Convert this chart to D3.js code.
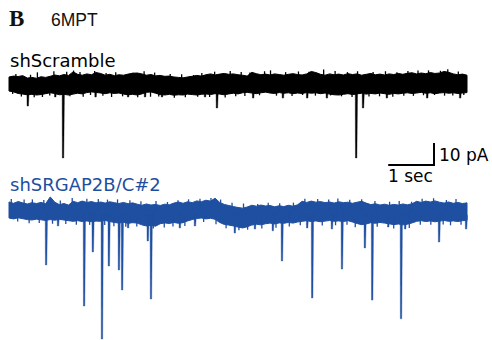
<!DOCTYPE html>
<html>
<head>
<meta charset="utf-8">
<script src="https://cdn.jsdelivr.net/npm/d3@7"></script>
<style>
  html, body { margin: 0; padding: 0; background: #fff; }
  svg { display: block; }
</style>
</head>
<body>
<div id="chart"></div>
<script>
// Recording: 10 s sweeps, envelope of the noise band sampled every 0.1 s (pA, baseline = 0)
const sampleStep = 0.1;

const scrambleUpper = [3.2, 3.6, 3.4, 3.8, 2.7, 3.0, 2.6, 3.3, 3.0, 3.5,
  4.1, 3.7, 4.3, 3.9, 5.5, 4.4, 4.0, 4.6, 4.2, 5.2,
  4.8, 4.0, 4.4, 3.8, 4.2, 4.0, 4.5, 4.9, 5.0, 4.6,
  4.0, 4.3, 3.7, 3.9, 3.5, 3.6, 3.2, 3.0, 2.8, 3.2,
  3.5, 3.9, 3.6, 4.2, 4.6, 4.1, 4.5, 4.8, 4.4, 4.6,
  4.2, 4.0, 3.6, 5.3, 4.7, 4.2, 4.5, 4.1, 4.6, 4.3,
  4.0, 4.4, 4.7, 4.3, 4.1, 4.6, 5.7, 5.2, 4.4, 4.0,
  4.6, 4.2, 4.5, 4.1, 4.7, 4.3, 4.6, 4.0, 4.4, 4.8,
  4.2, 4.5, 4.1, 4.6, 4.3, 4.8, 4.4, 4.9, 5.1, 4.6,
  5.0, 4.7, 5.2, 4.8, 5.0, 5.7, 5.3, 4.6, 4.2, 4.5, 4.0];
const scrambleLower = [-3.2, -3.6, -4.3, -4.6, -4.9, -4.7, -5.0, -4.8, -4.4, -4.0,
  -4.3, -4.9, -4.7, -5.0, -4.6, -4.2, -4.5, -3.9, -3.6, -3.8,
  -4.1, -4.4, -4.0, -4.3, -4.1, -4.6, -4.9, -4.7, -5.0, -4.5,
  -3.8, -3.6, -4.2, -4.8, -5.0, -4.7, -5.1, -4.9, -5.0, -4.6,
  -4.8, -5.0, -4.7, -4.5, -4.8, -4.4, -4.6, -4.9, -4.5, -4.2,
  -4.5, -4.0, -3.8, -4.1, -4.4, -4.0, -3.7, -4.1, -4.3, -3.9,
  -4.2, -4.0, -4.4, -4.1, -4.3, -3.9, -4.2, -4.0, -4.4, -4.1,
  -4.6, -4.9, -5.0, -4.7, -4.4, -4.8, -4.5, -4.2, -4.6, -4.3,
  -4.5, -4.1, -4.4, -4.7, -4.3, -4.5, -4.2, -4.0, -4.3, -4.1,
  -3.8, -4.2, -4.0, -4.4, -4.1, -3.9, -4.2, -4.0, -4.3, -4.1, -3.9];
// brief noise excursions poking out of the band: time (s), tip (pA)
const scrambleTipUpT = [0.15, 0.47, 0.62, 0.98, 1.26, 1.41, 1.55, 1.87, 2.12, 2.33, 2.71, 2.95, 3.18,
  3.52, 3.77, 4.03, 4.21, 4.49, 4.83, 5.07, 5.26, 5.58, 5.71, 6.04, 6.32, 6.55, 6.87, 7.12,
  7.39, 7.61, 7.95, 8.22, 8.47, 8.71, 8.93, 9.16, 9.42, 9.58, 9.81];
const scrambleTipUpA = [4.5, 4.2, 5.3, 5.8, 5.6, 6.1, 5.4, 5.9, 5.0, 5.3, 5.1, 5.8, 5.2,
  4.6, 4.4, 4.1, 5.0, 5.6, 5.9, 5.5, 5.2, 5.8, 6.2, 5.4, 5.7, 5.6, 6.6, 5.9,
  5.4, 5.8, 5.5, 5.8, 5.3, 5.9, 6.1, 6.2, 6.0, 6.7, 5.7];
const scrambleTipDownT = [0.08, 0.27, 0.55, 0.73, 0.89, 1.33, 1.62, 1.78, 2.05, 2.24, 2.48, 2.81, 3.09,
  3.27, 3.61, 3.85, 4.12, 4.38, 4.72, 4.95, 5.15, 5.47, 5.84, 6.18, 6.41, 6.69, 7.02, 7.26,
  7.49, 7.86, 8.09, 8.38, 8.62, 8.83, 9.05, 9.29, 9.51, 9.69, 9.93];
const scrambleTipDownA = [-4.6, -5.7, -6.0, -5.9, -5.2, -5.6, -5.8, -5.0, -5.3, -5.9, -5.6, -6.0, -5.8,
  -5.7, -6.2, -6.0, -5.8, -5.9, -6.1, -5.6, -5.4, -5.1, -5.3, -5.4, -5.0, -5.3, -5.2, -5.6,
  -5.9, -5.7, -5.6, -5.8, -5.3, -5.4, -5.1, -5.0, -5.3, -5.2, -5.0];
// events: time (s), peak (pA)
const scrambleEventT = [0.41, 1.01, 1.18, 1.89, 2.6, 2.97, 3.34, 4.28, 4.54, 5.33, 5.98, 6.51, 6.94, 7.58, 7.73, 8.25, 9.13, 9.85];
const scrambleEventA = [-10, -5.9, -33.6, -5.9, -5.9, -5.9, -5.9, -5.9, -10.9, -6.4, -6.4, -6.4, -6.4, -33.6, -10.9, -6.4, -6.4, -6.4];

const knockdownUpper = [4.1, 3.5, 4.3, 3.7, 3.2, 3.8, 3.4, 3.9, 3.3, 6.4,
  4.0, 2.9, 3.4, 2.7, 4.4, 3.8, 4.5, 3.9, 4.3, 3.7,
  4.1, 3.6, 4.2, 3.8, 3.4, 3.9, 3.3, 3.7, 3.1, 2.6,
  3.2, 2.7, 3.0, 2.5, 3.1, 2.8, 3.6, 4.1, 3.5, 4.2,
  3.8, 4.6, 4.2, 4.9, 4.5, 5.8, 3.9, 3.0, 2.5, 2.0,
  1.6, 1.3, 1.8, 2.6, 2.2, 2.7, 2.3, 2.5, 1.9, 2.4,
  2.0, 2.6, 2.2, 2.8, 4.4, 3.9, 4.5, 4.0, 4.3, 3.8,
  4.1, 3.6, 4.2, 3.8, 4.0, 3.5, 4.0, 4.4, 3.6, 2.9,
  3.3, 2.7, 3.1, 2.6, 3.0, 2.7, 3.2, 2.8, 3.3, 4.4,
  3.9, 4.5, 4.1, 4.6, 4.0, 3.6, 4.1, 3.5, 3.9, 3.4, 3.7];
const knockdownLower = [-3.2, -3.6, -3.1, -3.5, -3.9, -4.1, -3.7, -4.0, -4.3, -3.9,
  -4.2, -3.8, -4.1, -4.4, -4.7, -4.4, -4.8, -4.5, -4.9, -4.6,
  -4.7, -4.3, -4.8, -5.2, -5.5, -5.1, -5.6, -5.3, -5.5, -6.3,
  -6.8, -6.5, -6.9, -5.8, -5.4, -5.7, -5.2, -5.6, -5.3, -4.5,
  -3.9, -3.4, -3.2, -3.6, -3.3, -3.8, -5.2, -6.1, -6.4, -6.8,
  -7.3, -7.7, -7.2, -6.4, -6.0, -6.3, -5.8, -5.5, -5.9, -5.4,
  -5.6, -5.2, -5.5, -5.0, -4.7, -4.4, -4.8, -4.5, -4.9, -4.6,
  -4.3, -4.7, -4.5, -4.8, -4.4, -5.0, -5.7, -6.2, -5.9, -5.3,
  -5.6, -5.2, -5.5, -5.8, -6.2, -5.9, -6.3, -6.0, -5.4, -4.7,
  -4.4, -4.8, -4.5, -4.9, -4.6, -4.3, -4.7, -4.5, -4.8, -4.4, -4.2];
const knockdownTipUpT = [0.05, 0.33, 0.51, 0.76, 1.12, 1.38, 1.70, 1.95, 2.15, 2.37, 2.64, 2.88, 3.21,
  3.46, 3.69, 3.92, 4.17, 4.41, 4.62, 4.87, 5.12, 5.43, 5.66, 5.91, 6.21, 6.46, 6.74, 6.98,
  7.18, 7.44, 7.70, 7.99, 8.31, 8.52, 8.79, 9.02, 9.27, 9.55, 9.76];
const knockdownTipUpA = [5.5, 5.2, 5.3, 5.0, 4.8, 5.9, 5.6, 5.4, 5.2, 5.3, 4.9, 4.4, 4.6,
  4.1, 4.9, 5.3, 5.6, 5.9, 5.2, 3.8, 3.4, 3.2, 3.7, 3.5, 3.8, 5.6, 5.5, 5.2,
  5.7, 5.1, 5.3, 4.6, 4.2, 4.5, 4.2, 5.6, 5.8, 5.0, 5.4];
const knockdownTipDownT = [0.19, 0.44, 0.66, 0.95, 1.24, 1.47, 1.76, 2.09, 2.29, 2.55, 2.79, 3.15,
  3.39, 3.58, 3.84, 4.25, 4.52, 4.74, 5.02, 5.21, 5.52, 5.83, 6.12, 6.36, 6.84, 7.13, 7.38,
  7.56, 8.04, 8.40, 8.74, 8.98, 9.21, 9.48, 9.64, 9.87];
const knockdownTipDownA = [-4.8, -5.6, -5.5, -5.8, -5.9, -6.2, -6.3, -6.4, -6.9, -7.2, -7.0, -8.0,
  -7.5, -7.0, -6.8, -5.0, -6.0, -7.8, -8.8, -8.5, -8.0, -7.6, -7.0, -6.5, -6.6, -6.5, -6.2,
  -7.4, -7.2, -7.9, -7.7, -6.2, -6.3, -6.1, -6.5, -6.2];
const knockdownEventT = [0.81, 1.07, 1.64, 1.83, 2.03, 2.18, 2.40, 2.47, 2.60, 3.03, 3.10, 3.73, 4.06,
  4.93, 5.37, 5.76, 5.96, 6.51, 6.62, 7.05, 7.27, 7.77, 7.93, 8.28, 8.56, 8.65, 9.39, 9.98];
const knockdownEventA = [-24.5, -6.8, -43.2, -18.6, -58.2, -25, -26.8, -35.9, -7.7, -13.6, -40, -7.7, -6.8,
  -10, -8.2, -9, -22.7, -7.7, -39.5, -8.2, -26.4, -16.8, -40.5, -7.3, -49, -8.2, -14.1, -8.2];

const scaleBarSec = 1;
const scaleBarPA = 10;

const width = 492, height = 340;
const black = '#000';
const blue = '#1f4fa0';

const svg = d3.select('#chart').append('svg')
  .attr('width', width)
  .attr('height', height);

// time axis shared by both sweeps
const x = d3.scaleLinear().domain([0, 10]).range([9, 467]);
// 2.2 px per pA
const yTop = d3.scaleLinear().domain([0, 10]).range([84, 62]);
const yBot = d3.scaleLinear().domain([0, 10]).range([211, 189]);

function drawTrace(tr, y, color) {
  const g = svg.append('g').attr('class', 'trace');
  const pts = tr.upper.map((u, i) => ({ t: i * sampleStep, u, l: tr.lower[i] }));
  const area = d3.area()
    .x((d) => x(d.t))
    .y0((d) => y(d.l))
    .y1((d) => y(d.u));
  g.append('path')
    .datum(pts)
    .attr('d', area)
    .attr('fill', color)
    .attr('stroke', color)
    .attr('stroke-width', 1);
  // noise excursions
  const tips = tr.upT.map((t, i) => ({ t, a: tr.upA[i] }))
    .concat(tr.downT.map((t, i) => ({ t, a: tr.downA[i] })));
  g.selectAll('line.tip')
    .data(tips)
    .join('line')
    .attr('class', 'tip')
    .attr('x1', (d) => x(d.t))
    .attr('x2', (d) => x(d.t))
    .attr('y1', y(0))
    .attr('y2', (d) => y(d.a))
    .attr('stroke', color)
    .attr('stroke-width', 1.3);
  // fast inward currents drawn as sharp downward spikes
  g.selectAll('path.event')
    .data(tr.evT.map((t, i) => ({ t, a: tr.evA[i] })))
    .join('path')
    .attr('class', 'event')
    .attr('d', (d) => `M${x(d.t) - 0.9},${y(-2)} L${x(d.t) - 0.7},${y(d.a)} ` +
      `L${x(d.t) + 0.7},${y(d.a)} L${x(d.t) + 1.4},${y(-2)} Z`)
    .attr('fill', color)
    .attr('stroke', color)
    .attr('stroke-width', 0.4);
}

drawTrace({
  upper: scrambleUpper, lower: scrambleLower,
  upT: scrambleTipUpT, upA: scrambleTipUpA, downT: scrambleTipDownT, downA: scrambleTipDownA,
  evT: scrambleEventT, evA: scrambleEventA,
}, yTop, black);
drawTrace({
  upper: knockdownUpper, lower: knockdownLower,
  upT: knockdownTipUpT, upA: knockdownTipUpA, downT: knockdownTipDownT, downA: knockdownTipDownA,
  evT: knockdownEventT, evA: knockdownEventA,
}, yBot, blue);

// panel label
svg.append('text')
  .attr('x', 9)
  .attr('y', 26)
  .attr('font-family', '"Liberation Serif", "Times New Roman", serif')
  .attr('font-weight', 'bold')
  .attr('font-size', 23)
  .attr('fill', '#111')
  .text('B');
svg.append('text')
  .attr('x', 51)
  .attr('y', 26)
  .attr('font-family', '"Liberation Sans", Arial, sans-serif')
  .attr('font-size', 17.5)
  .attr('fill', '#111')
  .text('6MPT');

// trace names
svg.append('text')
  .attr('x', 10)
  .attr('y', 67)
  .attr('font-family', '"DejaVu Sans", Verdana, sans-serif')
  .attr('font-size', 18)
  .attr('fill', black)
  .text('shScramble');
svg.append('text')
  .attr('x', 10)
  .attr('y', 191)
  .attr('font-family', '"DejaVu Sans", Verdana, sans-serif')
  .attr('font-size', 18)
  .attr('fill', blue)
  .text('shSRGAP2B/C#2');

// scale bar
const sbX = 434, sbY = 165;
const sbW = x(scaleBarSec) - x(0);
const sbH = yTop(0) - yTop(scaleBarPA);
svg.append('path')
  .attr('d', `M${sbX - sbW},${sbY} L${sbX},${sbY} L${sbX},${sbY - sbH}`)
  .attr('fill', 'none')
  .attr('stroke', black)
  .attr('stroke-width', 2);
svg.append('text')
  .attr('x', 439)
  .attr('y', 161)
  .attr('font-family', '"DejaVu Sans", Verdana, sans-serif')
  .attr('font-size', 17)
  .attr('fill', black)
  .text(scaleBarPA + ' pA');
svg.append('text')
  .attr('x', 388)
  .attr('y', 182)
  .attr('font-family', '"DejaVu Sans", Verdana, sans-serif')
  .attr('font-size', 17)
  .attr('fill', black)
  .text(scaleBarSec + ' sec');
</script>
</body>
</html>
